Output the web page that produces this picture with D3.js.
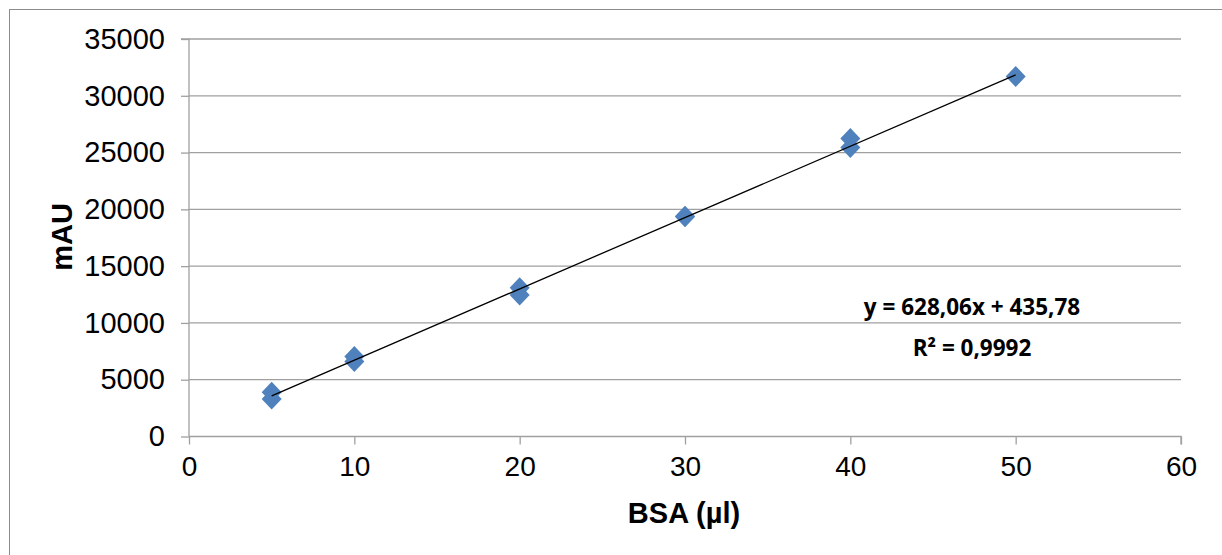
<!DOCTYPE html>
<html><head><meta charset="utf-8">
<script src="https://cdn.jsdelivr.net/npm/d3@7"></script>
<style>body{margin:0;background:#fff}svg{display:block}</style>
</head><body>
<svg id="c" width="1222" height="555"></svg>
<script>
const xValues = [5, 5, 10, 10, 20, 20, 30, 30, 40, 40, 50];
const yValues = [3900, 3300, 7050, 6600, 13100, 12450, 19400, 19350, 26250, 25450, 31700];
const xTicks = [0, 10, 20, 30, 40, 50, 60];
const yTicks = [0, 5000, 10000, 15000, 20000, 25000, 30000, 35000];
const slope = 628.06, intercept = 435.78;
const eqLabel = "y = 628,06x + 435,78";
const r2Label = "R² = 0,9992";
const xTitle = "BSA (µl)";
const yTitle = "mAU";

const svg = d3.select("#c");
const x = d3.scaleLinear().domain([0, 60]).range([189, 1181]);
const y = d3.scaleLinear().domain([0, 35000]).range([436.5, 39]);

svg.append("rect").attr("x", 9.5).attr("y", 9.5).attr("width", 1230).attr("height", 560)
  .attr("fill", "#fff").attr("stroke", "#8c8c8c").attr("stroke-width", 1);

// gridlines
svg.append("g").selectAll("line").data(yTicks.filter(d => d > 0)).join("line")
  .attr("x1", x(0)).attr("x2", x(60)).attr("y1", d => y(d)).attr("y2", d => y(d))
  .attr("stroke", "#a0a0a0").attr("stroke-width", 1.3);

// y axis
const ya = svg.append("g").attr("transform", `translate(${x(0)},0)`)
  .call(d3.axisLeft(y).tickValues(yTicks).tickSize(8).tickPadding(16).tickFormat(d3.format("d")));
ya.select(".domain").attr("stroke", "#a0a0a0").attr("stroke-width", 1.3).attr("d", `M-8,${y(35000)}H0V${y(0)}`);
ya.selectAll(".tick line").attr("stroke", "#a0a0a0").attr("stroke-width", 1.3);
ya.selectAll("text").attr("font-family", "Liberation Sans, Arial, sans-serif").attr("font-size", 29).attr("fill", "#000");

// x axis
const xa = svg.append("g").attr("transform", `translate(0,${y(0)})`)
  .call(d3.axisBottom(x).tickValues(xTicks).tickSize(8).tickPadding(12));
xa.select(".domain").attr("stroke", "#a0a0a0").attr("stroke-width", 1.3).attr("d", `M${x(0)},0H${x(60)}V8`);
xa.selectAll(".tick line").attr("stroke", "#a0a0a0").attr("stroke-width", 1.3);
xa.selectAll("text").attr("font-family", "Liberation Sans, Arial, sans-serif").attr("font-size", 28).attr("fill", "#000");

// points
const pts = xValues.map((v, i) => [v, yValues[i]]);
svg.append("g").selectAll("path").data(pts).join("path")
  .attr("transform", d => `translate(${x(d[0])},${y(d[1])})`)
  .attr("d", "M0,-10.5L10,0L0,10.5L-10,0Z")
  .attr("fill", "#4f81bd");

// trendline
const xmin = d3.min(xValues), xmax = d3.max(xValues);
svg.append("line")
  .attr("x1", x(xmin)).attr("y1", y(slope * xmin + intercept))
  .attr("x2", x(xmax)).attr("y2", y(slope * xmax + intercept))
  .attr("stroke", "#000").attr("stroke-width", 1.3);

// equation
const eq = svg.append("g").attr("font-family", "Open Sans, sans-serif").attr("font-weight", "bold")
  .attr("font-size", 22.5).attr("text-anchor", "middle").attr("fill", "#000");
eq.append("text").attr("x", 972).attr("y", 315).text(eqLabel);
eq.append("text").attr("x", 972).attr("y", 356).text(r2Label);

// titles
svg.append("text").attr("x", 684).attr("y", 523).attr("text-anchor", "middle")
  .attr("font-family", "Liberation Sans, Arial, sans-serif").attr("font-weight", "bold").attr("font-size", 29)
  .text(xTitle);
svg.append("text").attr("transform", "translate(72,237) rotate(-90)").attr("text-anchor", "middle")
  .attr("font-family", "Liberation Sans, Arial, sans-serif").attr("font-weight", "bold").attr("font-size", 29)
  .text(yTitle);
</script>
</body></html>
